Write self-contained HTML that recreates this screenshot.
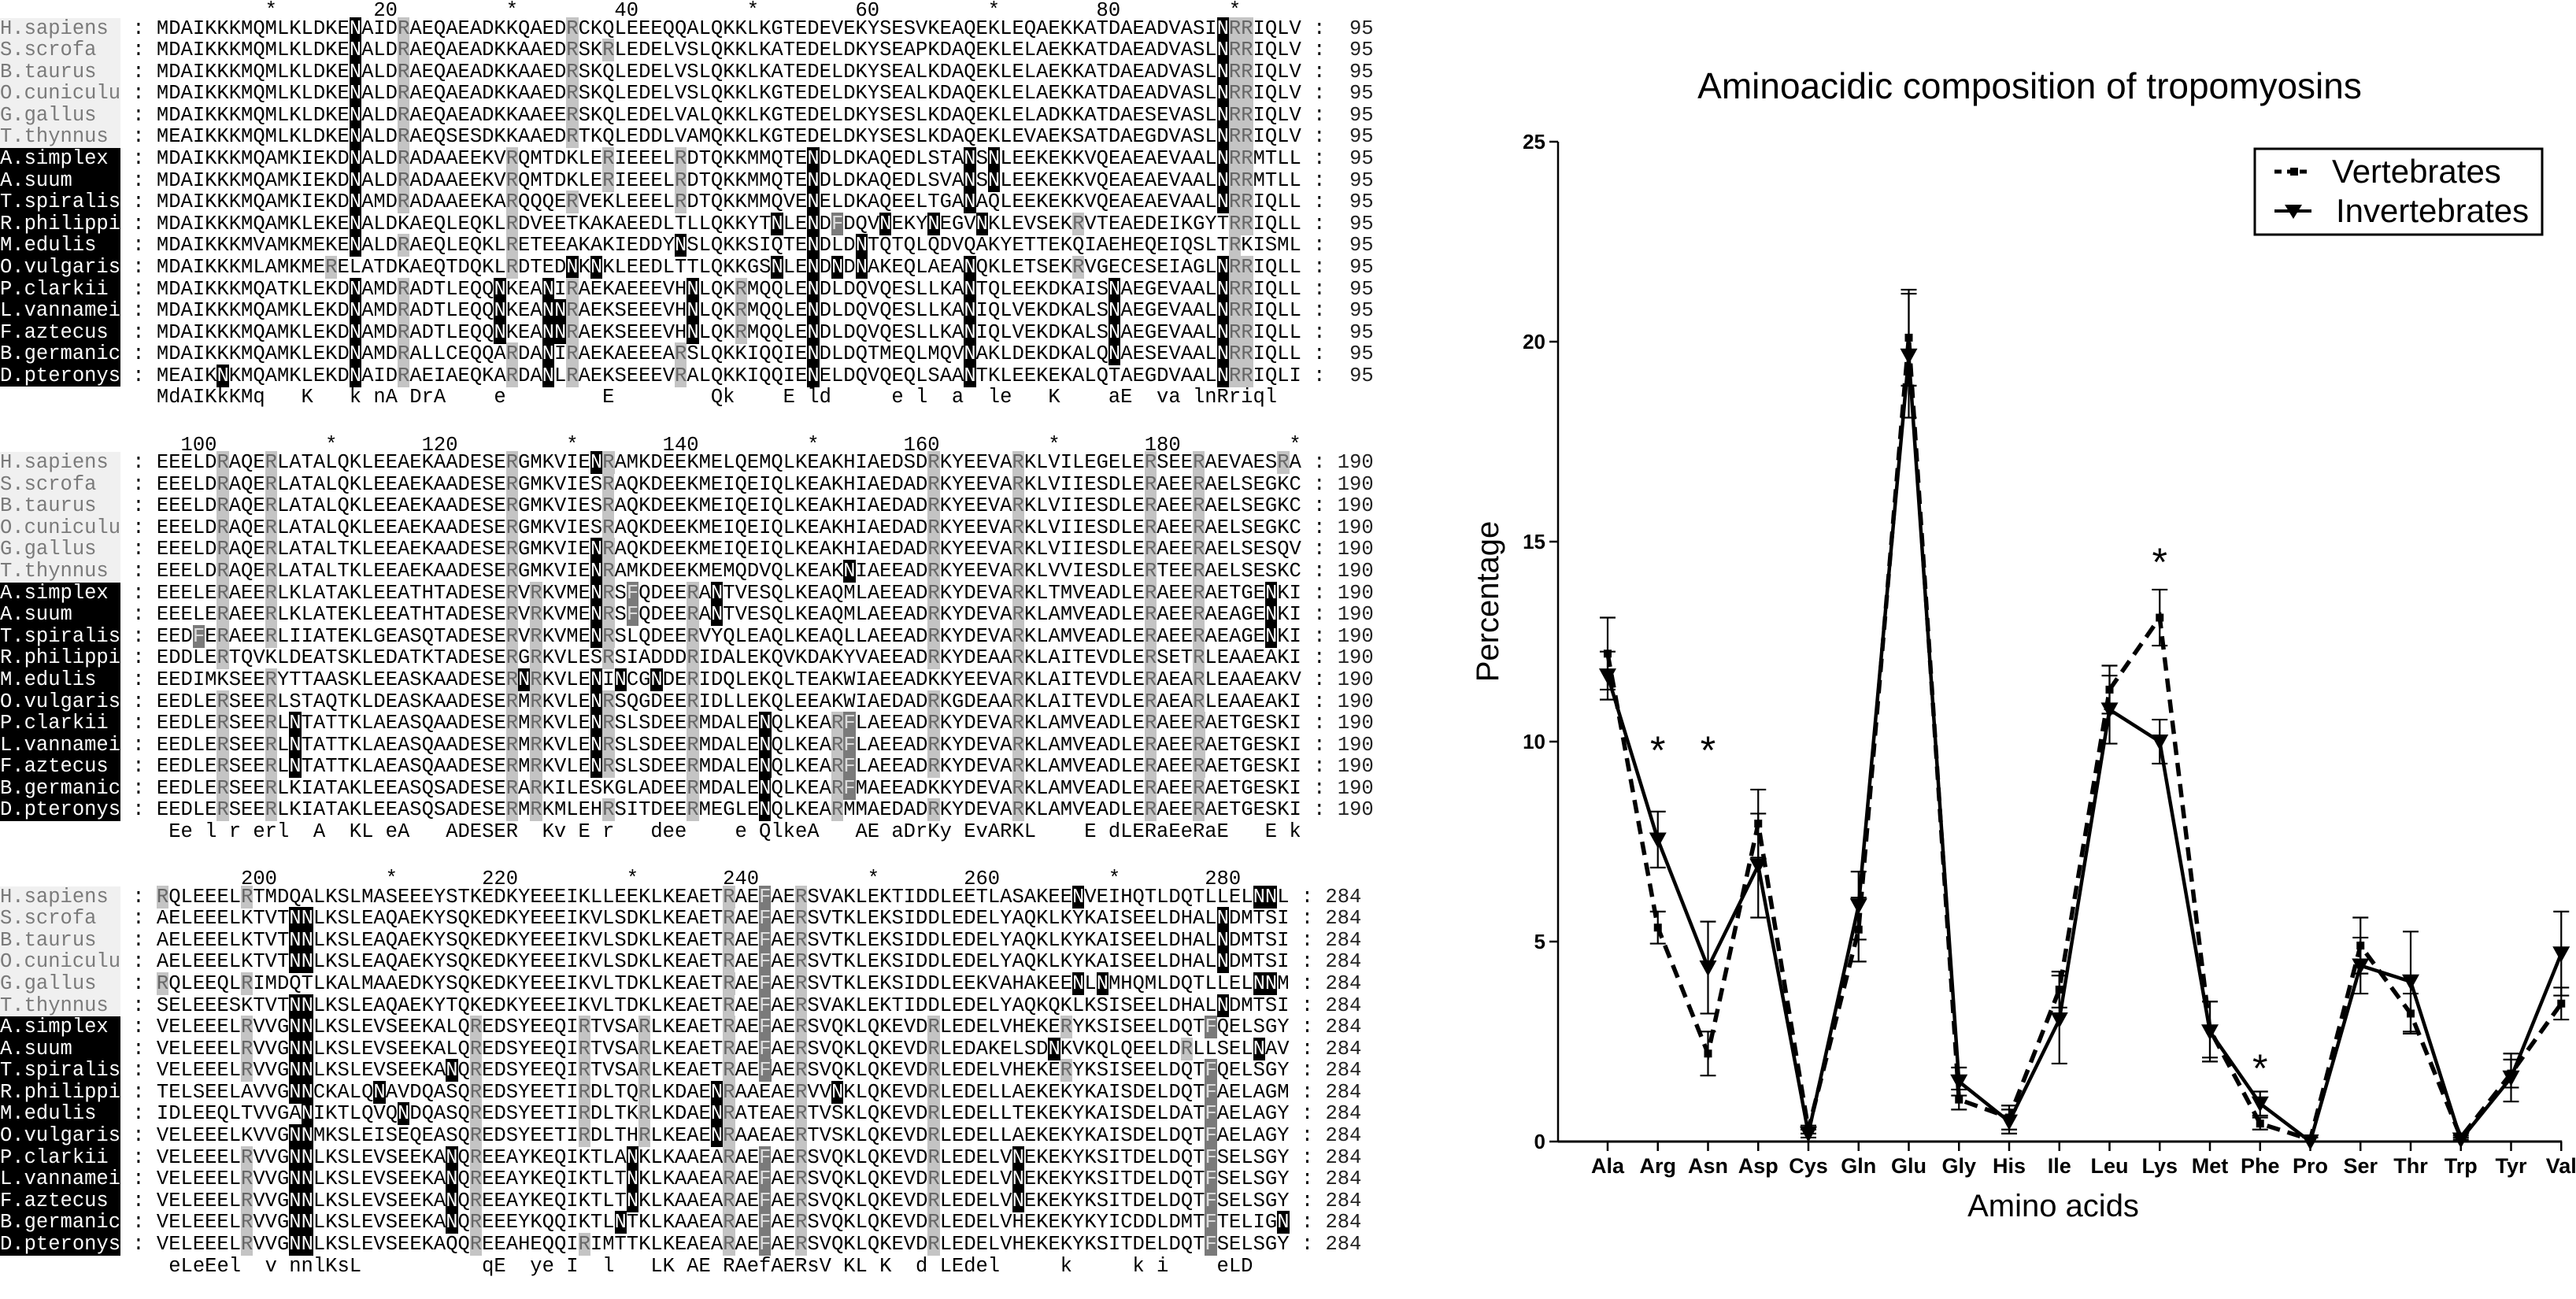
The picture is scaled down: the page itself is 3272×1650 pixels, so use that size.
<!DOCTYPE html>
<html><head><meta charset="utf-8">
<style>
html,body{margin:0;padding:0;background:#fff;}
body{width:3272px;height:1621px;position:relative;overflow:hidden;}
#aln{position:absolute;left:0;top:-5px;margin:0;font-family:"Liberation Mono",monospace;font-size:25.5px;line-height:27.58px;color:#000;white-space:pre;}
.nm{display:inline-block;width:153px;height:27.58px;vertical-align:top;}
.nv{background:#f0f0f0;color:#7a7a7a;}
.ni{background:#000;color:#fff;}
.cN{background:#000;color:#fff;}
.cR{background:#c4c4c4;color:#666;}
.cF{background:#7a7a7a;color:#ddd;}
.num{color:#222;}
.rul{position:relative;top:5px;}
#chart{position:absolute;left:0;top:0;}
</style></head>
<body>
<pre id="aln"></pre>
<svg id="chart" width="3272" height="1621" font-family="Liberation Sans, Arial, sans-serif"></svg>
<script>
// ---------- alignment ----------
const names=["H.sapiens","S.scrofa","B.taurus","O.cuniculu","G.gallus","T.thynnus","A.simplex","A.suum","T.spiralis","R.philippi","M.edulis","O.vulgaris","P.clarkii","L.vannamei","F.aztecus","B.germanic","D.pteronys"];
const vertCount=6;
const block1=[
"MDAIKKKMQMLKLDKENAIDRAEQAEADKKQAEDRCKQLEEEQQALQKKLKGTEDEVEKYSESVKEAQEKLEQAEKKATDAEADVASINRRIQLV",
"MDAIKKKMQMLKLDKENALDRAEQAEADKKAAEDRSKRLEDELVSLQKKLKATEDELDKYSEAPKDAQEKLELAEKKATDAEADVASLNRRIQLV",
"MDAIKKKMQMLKLDKENALDRAEQAEADKKAAEDRSKQLEDELVSLQKKLKATEDELDKYSEALKDAQEKLELAEKKATDAEADVASLNRRIQLV",
"MDAIKKKMQMLKLDKENALDRAEQAEADKKAAEDRSKQLEDELVSLQKKLKGTEDELDKYSEALKDAQEKLELAEKKATDAEADVASLNRRIQLV",
"MDAIKKKMQMLKLDKENALDRAEQAEADKKAAEERSKQLEDELVALQKKLKGTEDELDKYSESLKDAQEKLELADKKATDAESEVASLNRRIQLV",
"MEAIKKKMQMLKLDKENALDRAEQSESDKKAAEDRTKQLEDDLVAMQKKLKGTEDELDKYSESLKDAQEKLEVAEKSATDAEGDVASLNRRIQLV",
"MDAIKKKMQAMKIEKDNALDRADAAEEKVRQMTDKLERIEEELRDTQKKMMQTENDLDKAQEDLSTANSNLEEKEKKVQEAEAEVAALNRRMTLL",
"MDAIKKKMQAMKIEKDNALDRADAAEEKVRQMTDKLERIEEELRDTQKKMMQTENDLDKAQEDLSVANSNLEEKEKKVQEAEAEVAALNRRMTLL",
"MDAIKKKMQAMKIEKDNAMDRADAAEEKARQQQERVEKLEEELRDTQKKMMQVENELDKAQEELTGANAQLEEKEKKVQEAEAEVAALNRRIQLL",
"MDAIKKKMQAMKLEKENALDKAEQLEQKLRDVEETKAKAEEDLTLLQKKYTNLENDFDQVNEKYNEGVNKLEVSEKRVTEAEDEIKGYTRRIQLL",
"MDAIKKKMVAMKMEKENALDRAEQLEQKLRETEEAKAKIEDDYNSLQKKSIQTENDLDNTQTQLQDVQAKYETTEKQIAEHEQEIQSLTRKISML",
"MDAIKKKMLAMKMERELATDKAEQTDQKLRDTEDNKNKLEEDLTTLQKKGSNLENDNDNAKEQLAEANQKLETSEKRVGECESEIAGLNRRIQLL",
"MDAIKKKMQATKLEKDNAMDRADTLEQQNKEANIRAEKAEEEVHNLQKRMQQLENDLDQVQESLLKANTQLEEKDKAISNAEGEVAALNRRIQLL",
"MDAIKKKMQAMKLEKDNAMDRADTLEQQNKEANNRAEKSEEEVHNLQKRMQQLENDLDQVQESLLKANIQLVEKDKALSNAEGEVAALNRRIQLL",
"MDAIKKKMQAMKLEKDNAMDRADTLEQQNKEANNRAEKSEEEVHNLQKRMQQLENDLDQVQESLLKANIQLVEKDKALSNAEGEVAALNRRIQLL",
"MDAIKKKMQAMKLEKDNAMDRALLCEQQARDANIRAEKAEEEARSLQKKIQQIENDLDQTMEQLMQVNAKLDEKDKALQNAESEVAALNRRIQLL",
"MEAIKNKMQAMKLEKDNAIDRAEIAEQKARDANLRAEKSEEEVRALQKKIQQIENELDQVQEQLSAANTKLEEKEKALQTAEGDVAALNRRIQLI"];
const cons1="MdAIKkKMq   K   k nA DrA    e        E        Qk    E ld     e l  a  le   K    aE  va lnRriql";
const block2=[
"EEELDRAQERLATALQKLEEAEKAADESERGMKVIENRAMKDEEKMELQEMQLKEAKHIAEDSDRKYEEVARKLVILEGELERSEERAEVAESRA",
"EEELDRAQERLATALQKLEEAEKAADESERGMKVIESRAQKDEEKMEIQEIQLKEAKHIAEDADRKYEEVARKLVIIESDLERAEERAELSEGKC",
"EEELDRAQERLATALQKLEEAEKAADESERGMKVIESRAQKDEEKMEIQEIQLKEAKHIAEDADRKYEEVARKLVIIESDLERAEERAELSEGKC",
"EEELDRAQERLATALQKLEEAEKAADESERGMKVIESRAQKDEEKMEIQEIQLKEAKHIAEDADRKYEEVARKLVIIESDLERAEERAELSEGKC",
"EEELDRAQERLATALTKLEEAEKAADESERGMKVIENRAQKDEEKMEIQEIQLKEAKHIAEDADRKYEEVARKLVIIESDLERAEERAELSESQV",
"EEELDRAQERLATALTKLEEAEKAADESERGMKVIENRAMKDEEKMEMQDVQLKEAKNIAEEADRKYEEVARKLVVIESDLERTEERAELSESKC",
"EEELERAEERLKLATAKLEEATHTADESERVRKVMENRSFQDEERANTVESQLKEAQMLAEEADRKYDEVARKLTMVEADLERAEERAETGENKI",
"EEELERAEERLKLATEKLEEATHTADESERVRKVMENRSFQDEERANTVESQLKEAQMLAEEADRKYDEVARKLAMVEADLERAEERAEAGENKI",
"EEDFERAEERLIIATEKLGEASQTADESERVRKVMENRSLQDEERVYQLEAQLKEAQLLAEEADRKYDEVARKLAMVEADLERAEERAEAGENKI",
"EDDLERTQVKLDEATSKLEDATKTADESERGRKVLESRSIADDDRIDALEKQVKDAKYVAEEADRKYDEAARKLAITEVDLERSETRLEAAEAKI",
"EEDIMKSEERYTTAASKLEEASKAADESERNRKVLENINCGNDERIDQLEKQLTEAKWIAEEADKKYEEVARKLAITEVDLERAEARLEAAEAKV",
"EEDLERSEERLSTAQTKLDEASKAADESERMRKVLENRSQGDEERIDLLEKQLEEAKWIAEDADRKGDEAARKLAITEVDLERAEARLEAAEAKI",
"EEDLERSEERLNTATTKLAEASQAADESERMRKVLENRSLSDEERMDALENQLKEARFLAEEADRKYDEVARKLAMVEADLERAEERAETGESKI",
"EEDLERSEERLNTATTKLAEASQAADESERMRKVLENRSLSDEERMDALENQLKEARFLAEEADRKYDEVARKLAMVEADLERAEERAETGESKI",
"EEDLERSEERLNTATTKLAEASQAADESERMRKVLENRSLSDEERMDALENQLKEARFLAEEADRKYDEVARKLAMVEADLERAEERAETGESKI",
"EEDLERSEERLKIATAKLEEASQSADESERARKILESKGLADEERMDALENQLKEARFMAEEADKKYDEVARKLAMVEADLERAEERAETGESKI",
"EEDLERSEERLKIATAKLEEASQSADESERMRKMLEHRSITDEERMEGLENQLKEARMMAEDADRKYDEVARKLAMVEADLERAEERAETGESKI"];
const cons2=" Ee l r erl  A  KL eA   ADESER  Kv E r   dee    e QlkeA   AE aDrKy EvARKL    E dLERaEeRaE   E k ";
const block3=[
"RQLEEELRTMDQALKSLMASEEEYSTKEDKYEEEIKLLEEKLKEAETRAEFAERSVAKLEKTIDDLEETLASAKEENVEIHQTLDQTLLELNNL",
"AELEEELKTVTNNLKSLEAQAEKYSQKEDKYEEEIKVLSDKLKEAETRAEFAERSVTKLEKSIDDLEDELYAQKLKYKAISEELDHALNDMTSI",
"AELEEELKTVTNNLKSLEAQAEKYSQKEDKYEEEIKVLSDKLKEAETRAEFAERSVTKLEKSIDDLEDELYAQKLKYKAISEELDHALNDMTSI",
"AELEEELKTVTNNLKSLEAQAEKYSQKEDKYEEEIKVLSDKLKEAETRAEFAERSVTKLEKSIDDLEDELYAQKLKYKAISEELDHALNDMTSI",
"RQLEEQLRIMDQTLKALMAAEDKYSQKEDKYEEEIKVLTDKLKEAETRAEFAERSVTKLEKSIDDLEEKVAHAKEENLNMHQMLDQTLLELNNM",
"SELEEESKTVTNNLKSLEAQAEKYTQKEDKYEEEIKVLTDKLKEAETRAEFAERSVAKLEKTIDDLEDELYAQKQKLKSISEELDHALNDMTSI",
"VELEEELRVVGNNLKSLEVSEEKALQREDSYEEQIRTVSARLKEAETRAEFAERSVQKLQKEVDRLEDELVHEKERYKSISEELDQTFQELSGY",
"VELEEELRVVGNNLKSLEVSEEKALQREDSYEEQIRTVSARLKEAETRAEFAERSVQKLQKEVDRLEDAKELSDNKVKQLQEELDRLLSELNAV",
"VELEEELRVVGNNLKSLEVSEEKANQREDSYEEQIRTVSARLKEAETRAEFAERSVQKLQKEVDRLEDELVHEKERYKSISEELDQTFQELSGY",
"TELSEELAVVGNNCKALQNAVDQASQREDSYEETIRDLTQRLKDAENRAAEAERVVNKLQKEVDRLEDELLAEKEKYKAISDELDQTFAELAGM",
"IDLEEQLTVVGANIKTLQVQNDQASQREDSYEETIRDLTKRLKDAENRATEAERTVSKLQKEVDRLEDELLTEKEKYKAISDELDATFAELAGY",
"VELEEELKVVGNNMKSLEISEQEASQREDSYEETIRDLTHRLKEAENRAAEAERTVSKLQKEVDRLEDELLAEKEKYKAISDELDQTFAELAGY",
"VELEEELRVVGNNLKSLEVSEEKANQREEAYKEQIKTLANKLKAAEARAEFAERSVQKLQKEVDRLEDELVNEKEKYKSITDELDQTFSELSGY",
"VELEEELRVVGNNLKSLEVSEEKANQREEAYKEQIKTLTNKLKAAEARAEFAERSVQKLQKEVDRLEDELVNEKEKYKSITDELDQTFSELSGY",
"VELEEELRVVGNNLKSLEVSEEKANQREEAYKEQIKTLTNKLKAAEARAEFAERSVQKLQKEVDRLEDELVNEKEKYKSITDELDQTFSELSGY",
"VELEEELRVVGNNLKSLEVSEEKANQREEEYKQQIKTLNTKLKAAEARAEFAERSVQKLQKEVDRLEDELVHEKEKYKYICDDLDMTFTELIGN",
"VELEEELRVVGNNLKSLEVSEEKAQQREEAHEQQIRIMTTKLKEAEARAEFAERSVQKLQKEVDRLEDELVHEKEKYKSITDELDQTFSELSGY"];
const cons3=" eLeEel  v nnlKsL          qE  ye I  l   LK AE RAefAERsV KL K  d LEdel     k     k i    eLD    ";
const blocks=[{seqs:block1,cons:cons1,start:0,len:95},{seqs:block2,cons:cons2,start:95,len:95},{seqs:block3,cons:cons3,start:190,len:94}];

function fit(s,n){return (s+" ".repeat(n)).slice(0,n);}
let html="";
blocks.forEach((b,bi)=>{
  let r=Array(b.len).fill(" ");
  for(let i=0;i<b.len;i++){const p=b.start+i+1;
    if(p%10===0){ if(p%20===0){const t=String(p);for(let k=0;k<t.length;k++){const idx=i-t.length+1+k;if(idx>=0)r[idx]=t[k];}} else r[i]="*"; } }
  html+=`<span class="rul">${" ".repeat(13)}${r.join("")}</span>\n`;
  b.seqs.forEach((s,si)=>{
    const seq=fit(s,b.len);
    let sh="";
    for(const c of seq){
      if(c==="N")sh+=`<span class="cN">N</span>`;
      else if(c==="R")sh+=`<span class="cR">R</span>`;
      else if(c==="F")sh+=`<span class="cF">F</span>`;
      else sh+=c;
    }
    const cls=si<vertCount?"nv":"ni";
    const end=String(b.start+b.len);
    html+=`<span class="nm ${cls}">${fit(names[si],10)}</span> : <span>${sh}</span> : <span class="num">${end.padStart(3," ")}</span>\n`;
  });
  html+=`<span>${" ".repeat(13)}${fit(b.cons,b.len)}</span>\n\n`;
});
document.getElementById("aln").innerHTML=html;

// ---------- chart ----------
const categories=["Ala","Arg","Asn","Asp","Cys","Gln","Glu","Gly","His","Ile","Leu","Lys","Met","Phe","Pro","Ser","Thr","Trp","Tyr","Val"];
const vertValues=[12.2,5.35,2.2,7.95,0.3,5.3,20.1,1.05,0.6,3.8,11.3,13.1,2.8,0.45,0.05,4.9,3.2,0.1,1.7,3.45];
const invValues=[11.65,7.55,4.35,6.9,0.2,5.9,19.65,1.5,0.5,3.05,10.8,10.0,2.75,0.95,0.0,4.4,4.0,0.05,1.6,4.7];
const vertErr=[0.9,0.4,0.55,0.85,0.1,0.8,1.2,0.25,0.3,0.45,0.6,0.7,0.7,0.15,0.1,0.7,0.5,0.05,0.35,0.4];
const invErr=[0.6,0.7,1.15,1.3,0.1,0.85,1.55,0.35,0.3,1.1,0.85,0.55,0.75,0.3,0.1,0.7,1.25,0.05,0.6,1.05];
const starCats=["Arg","Asn","Lys","Phe"];
const starValues=[10.0,10.0,14.7,2.05];
const yTicks=[0,5,10,15,20,25];

const svg=document.getElementById("chart");
const NS="http://www.w3.org/2000/svg";
const X0=2042,XSTEP=63.75,Y0=1450,YPU=50.8,AXL=1979;
const xs=i=>X0+i*XSTEP;
const ys=v=>Y0-v*YPU;
function mk(tag,attrs,parent){const e=document.createElementNS(NS,tag);for(const k in attrs)e.setAttribute(k,attrs[k]);(parent||svg).appendChild(e);return e;}

const title=mk("text",{x:2578,y:125,"font-size":46,"text-anchor":"middle"});


title.textContent="Aminoacidic composition of tropomyosins";

const yAxis=mk("line",{x1:AXL,y1:ys(25),x2:AXL,y2:Y0,stroke:"#000","stroke-width":2.5});


const xAxis=mk("line",{x1:AXL,y1:Y0,x2:xs(categories.length-1)+1,y2:Y0,stroke:"#000","stroke-width":3});



yTicks.forEach(t=>{
  mk("line",{x1:AXL-11,y1:ys(t),x2:AXL,y2:ys(t),stroke:"#000","stroke-width":2.5});
  const tl=mk("text",{x:AXL-16,y:ys(t)+9,"font-size":26,"font-weight":"bold","text-anchor":"end"});
  
  
  tl.textContent=t;
});
categories.forEach((c,i)=>{
  mk("line",{x1:xs(i),y1:Y0,x2:xs(i),y2:Y0+12,stroke:"#000","stroke-width":2.5});
  const tl=mk("text",{x:xs(i),y:Y0+40,"font-size":27,"font-weight":"bold","text-anchor":"middle"});
  
  
  tl.textContent=c;
});
const xt=mk("text",{x:2608,y:1545,"font-size":40,"text-anchor":"middle"});


xt.textContent="Amino acids";
const yt=mk("text",{x:0,y:0,"font-size":40,"text-anchor":"middle",transform:"translate(1903,764) rotate(-90)"});


yt.textContent="Percentage";

function errBars(vals,errs,name){
  vals.forEach((v,i)=>{
    const g=mk("g",{stroke:"#000","stroke-width":2.2});
    
    
    const x=xs(i),t=ys(v+errs[i]),b=ys(Math.max(0,v-errs[i]));
    mk("line",{x1:x,y1:t,x2:x,y2:b},g);
    mk("line",{x1:x-10,y1:t,x2:x+10,y2:t},g);
    mk("line",{x1:x-10,y1:b,x2:x+10,y2:b},g);
  });
}
errBars(vertValues,vertErr,'error-bar-vertebrates');
errBars(invValues,invErr,'error-bar-invertebrates');

const vLine=mk("polyline",{points:vertValues.map((v,i)=>xs(i)+","+ys(v)).join(" "),fill:"none",stroke:"#000","stroke-width":5.5,"stroke-dasharray":"17 10"});


const iLine=mk("polyline",{points:invValues.map((v,i)=>xs(i)+","+ys(v)).join(" "),fill:"none",stroke:"#000","stroke-width":4.5,"stroke-linejoin":"miter"});



vertValues.forEach((v,i)=>{
  const m=mk("rect",{x:xs(i)-5,y:ys(v)-5,width:10,height:10,fill:"#000"});
  
  
});
invValues.forEach((v,i)=>{
  const x=xs(i),y=ys(v);
  const m=mk("polygon",{points:`${x-11},${y-9} ${x+11},${y-9} ${x},${y+11}`,fill:"#000"});
  
  
});
starCats.forEach((c,k)=>{
  const s=mk("text",{x:xs(categories.indexOf(c)),y:ys(starValues[k])+28,"font-size":50,"text-anchor":"middle"});
  
  
  s.textContent="*";
});

// legend
const lg=mk("g",{});


mk("rect",{x:2864,y:189,width:365,height:109,fill:"#fff",stroke:"#000","stroke-width":3},lg);
const le1=mk("g",{},lg);


mk("line",{x1:2889,y1:218,x2:2936,y2:218,stroke:"#000","stroke-width":5,"stroke-dasharray":"9 7"},le1);
mk("rect",{x:2909,y:213,width:10,height:10,fill:"#000"},le1);
const lt1=mk("text",{x:2962,y:232,"font-size":42},le1);lt1.textContent="Vertebrates";
const le2=mk("g",{},lg);


mk("line",{x1:2889,y1:268,x2:2936,y2:268,stroke:"#000","stroke-width":4},le2);
mk("polygon",{points:"2902,260 2924,260 2913,278",fill:"#000"},le2);
const lt2=mk("text",{x:2967,y:282,"font-size":42},le2);lt2.textContent="Invertebrates";
</script>
</body></html>
